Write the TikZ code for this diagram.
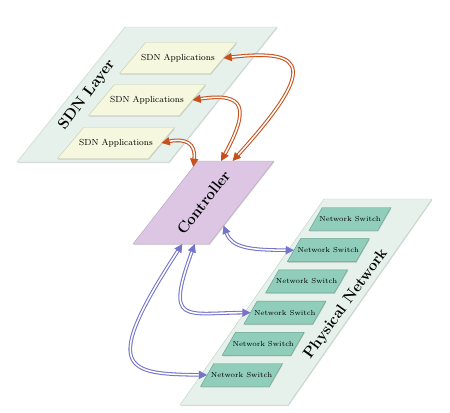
\documentclass[tikz,border=0pt]{standalone}
\usetikzlibrary{arrows.meta,shapes.geometric,shadows}

\definecolor{layerfill}{HTML}{E5F1EA}
\definecolor{layerline}{HTML}{C2D5CA}
\definecolor{appfill}{HTML}{F5F7DF}
\definecolor{appline}{HTML}{CBCFB0}
\definecolor{ctrlfill}{HTML}{DCC6E4}
\definecolor{ctrlline}{HTML}{B9A5C0}
\definecolor{switchfill}{HTML}{90CDBA}
\definecolor{switchline}{HTML}{68A291}
\definecolor{apparrow}{HTML}{C8501D}
\definecolor{netarrow}{HTML}{7474CA}

% empty box of a given height, so the slanted sides keep their angle
\newcommand{\slab}[1]{\rule{0pt}{#1}}

\tikzset{
	shade/.style={drop shadow={shadow xshift=0.4pt, shadow yshift=-0.9pt, opacity=0.3}},
	plate/.style={trapezium, trapezium stretches body, inner sep=0pt, outer sep=0pt, line width=0.4pt, shade},
	layer/.style={fill=layerfill, draw=layerline, line width=0.4pt, shade},
	app/.style={plate, fill=appfill, draw=appline, trapezium left angle=50, trapezium right angle=130,
		minimum width=35.1mm, execute at begin node={\slab{9.3mm}}},
	switch/.style={plate, fill=switchfill, draw=switchline, trapezium left angle=60, trapezium right angle=120,
		minimum width=24.6mm, execute at begin node={\slab{6.9mm}}},
	title/.style={font=\fontsize{13}{15}\selectfont\bfseries, inner sep=0pt},
	small/.style={font=\fontsize{7.5}{9}\selectfont, inner sep=0pt},
	tiny/.style={font=\fontsize{6.2}{7}\selectfont, inner sep=0pt},
	applink/.style={draw=apparrow, line width=0.9pt, double=white, double distance=1.3pt,
		{Triangle[length=7pt,width=7pt]}-{Triangle[length=7pt,width=7pt]}},
	netlink/.style={draw=netarrow, line width=0.9pt, double=white, double distance=1.3pt,
		{Triangle[length=7pt,width=7pt]}-{Triangle[length=7pt,width=7pt]}}
}

\begin{document}
\begin{tikzpicture}[x=0.3mm, y=-0.3mm]
	\useasboundingbox (0,0) rectangle (450,412);
	% the two layers
	\draw[layer] (125,27) -- (277,27) -- (169,162) -- (17,162) -- cycle;
	\draw[layer] (324,199) -- (432,199) -- (288,405) -- (180,405) -- cycle;
	\node[title, rotate=53] (sdntitle) at (87,95) {SDN Layer};
	\node[title, rotate=54] (phystitle) at (346,304) {Physical Network};
	% applications
	\node[app, label={[small]center:SDN Applications}] (app1) at (178,58) {};
	\node[app, label={[small]center:SDN Applications}] (app2) at (147,100) {};
	\node[app, label={[small]center:SDN Applications}] (app3) at (116,143) {};
	% switches
	\node[switch, label={[tiny]center:Network Switch}] (sw1) at (350,219) {};
	\node[switch, label={[tiny]center:Network Switch}] (sw2) at (328.3,250.2) {};
	\node[switch, label={[tiny]center:Network Switch}] (sw3) at (306.6,281.4) {};
	\node[switch, label={[tiny]center:Network Switch}] (sw4) at (284.9,312.6) {};
	\node[switch, label={[tiny]center:Network Switch}] (sw5) at (263.2,343.8) {};
	\node[switch, label={[tiny]center:Network Switch}] (sw6) at (241.5,375) {};
	% controller
	\node[plate, fill=ctrlfill, draw=ctrlline, trapezium left angle=52, trapezium right angle=128,
		minimum width=42.3mm, label={[title, rotate=52]center:Controller}] (ctrl) at (203.5,202.5) {\slab{24.9mm}};
	% northbound
	\draw[applink] (app1.east) .. controls (310,48) and (315,70) .. (ctrl.55);
	\draw[applink] (app2.east) .. controls (245,92) and (250,108) .. (ctrl.67);
	\draw[applink] (app3.east) .. controls (185,138) and (196,143) .. (ctrl.106);
	% southbound
	\draw[netlink] (ctrl.-49) .. controls (232,248) and (250,250) .. (sw2.west);
	\draw[netlink] (ctrl.-102) .. controls (165,325) and (185,313) .. (sw4.west);
	\draw[netlink] (ctrl.-117) .. controls (100,370) and (125,374) .. (sw6.west);
\end{tikzpicture}
\end{document}
